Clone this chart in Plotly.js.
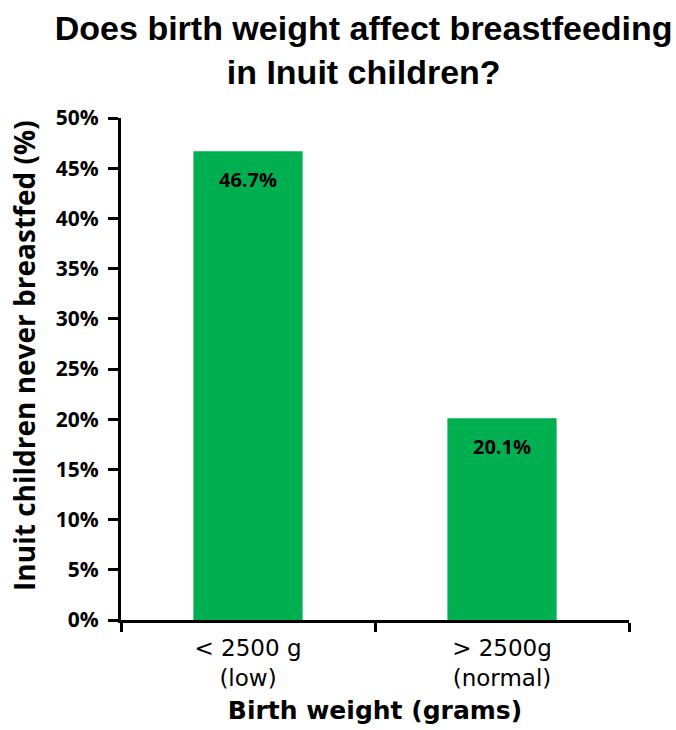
<!DOCTYPE html>
<html>
<head>
<meta charset="utf-8">
<script src="https://cdn.plot.ly/plotly-3.0.1.min.js"></script>
<style>html,body{margin:0;padding:0;background:#fff;}#chart{width:676px;height:730px;}</style>
</head>
<body>
<div id="chart"></div>
<script>
const categories = ["< 2500 g<br>(low)", "> 2500g<br>(normal)"];
const neverBreastfed = [46.7, 20.1];
const barLabels = ["46.7%", "20.1%"];
const yTickVals = [0, 5, 10, 15, 20, 25, 30, 35, 40, 45, 50];
const yTickText = ["0%", "5%", "10%", "15%", "20%", "25%", "30%", "35%", "40%", "45%", "50%"];
const yTitle = "Inuit children never breastfed (%)";
const xTitle = "Birth weight (grams)";

const trace = {
  type: "bar",
  x: categories,
  y: neverBreastfed,
  marker: {color: "#00b050"},
  width: 0.43,
  hoverinfo: "none"
};

const annotations = categories.map((c, i) => ({
  x: c, y: neverBreastfed[i], xref: "x", yref: "y",
  text: "<b>" + barLabels[i] + "</b>", showarrow: false,
  yanchor: "middle", yshift: -28,
  font: {family: "'Open Sans', sans-serif", size: 20, color: "#000"}
}));

annotations.push({
  xref: "paper", yref: "paper", x: -0.191, y: 0.528,
  xanchor: "center", yanchor: "middle", textangle: -90, showarrow: false,
  text: "<b>" + yTitle + "</b>",
  font: {family: "'Open Sans', sans-serif", size: 28, color: "#000"}
});

const layout = {
  width: 676, height: 730,
  margin: {l: 121, r: 47, t: 118, b: 110},
  paper_bgcolor: "#fff", plot_bgcolor: "#fff",
  showlegend: false,
  title: {
    text: "<b>Does birth weight affect breastfeeding<br>in Inuit children?</b>",
    x: 0.538, xanchor: "center", yref: "container", y: 0.945, yanchor: "middle",
    font: {family: "'Liberation Sans Narrow', 'Liberation Sans', Arial, sans-serif", size: 34, color: "#000"}
  },
  xaxis: {
    type: "category",
    tickson: "boundaries",
    ticks: "outside", ticklen: 9, tickwidth: 3, tickcolor: "#000",
    ticklabelstandoff: 5,
    showline: true, linewidth: 3, linecolor: "#000",
    showgrid: false, zeroline: false,
    tickfont: {family: "'DejaVu Sans', sans-serif", size: 23, color: "#000"},
    title: {text: "<b>" + xTitle + "</b>", standoff: 12,
      font: {family: "'DejaVu Sans', sans-serif", size: 25, color: "#000"}}
  },
  yaxis: {
    range: [0, 50],
    tickvals: yTickVals, ticktext: yTickText.map(t => "<b>" + t + "</b>"),
    ticks: "outside", ticklen: 10, tickwidth: 3, tickcolor: "#000",
    ticklabelstandoff: 5,
    showline: true, linewidth: 3, linecolor: "#000",
    showgrid: false, zeroline: false,
    tickfont: {family: "'Open Sans', sans-serif", size: 21, color: "#000"}
  },
  annotations: annotations
};

Plotly.newPlot("chart", [trace], layout, {staticPlot: true, displayModeBar: false});
</script>
</body>
</html>
